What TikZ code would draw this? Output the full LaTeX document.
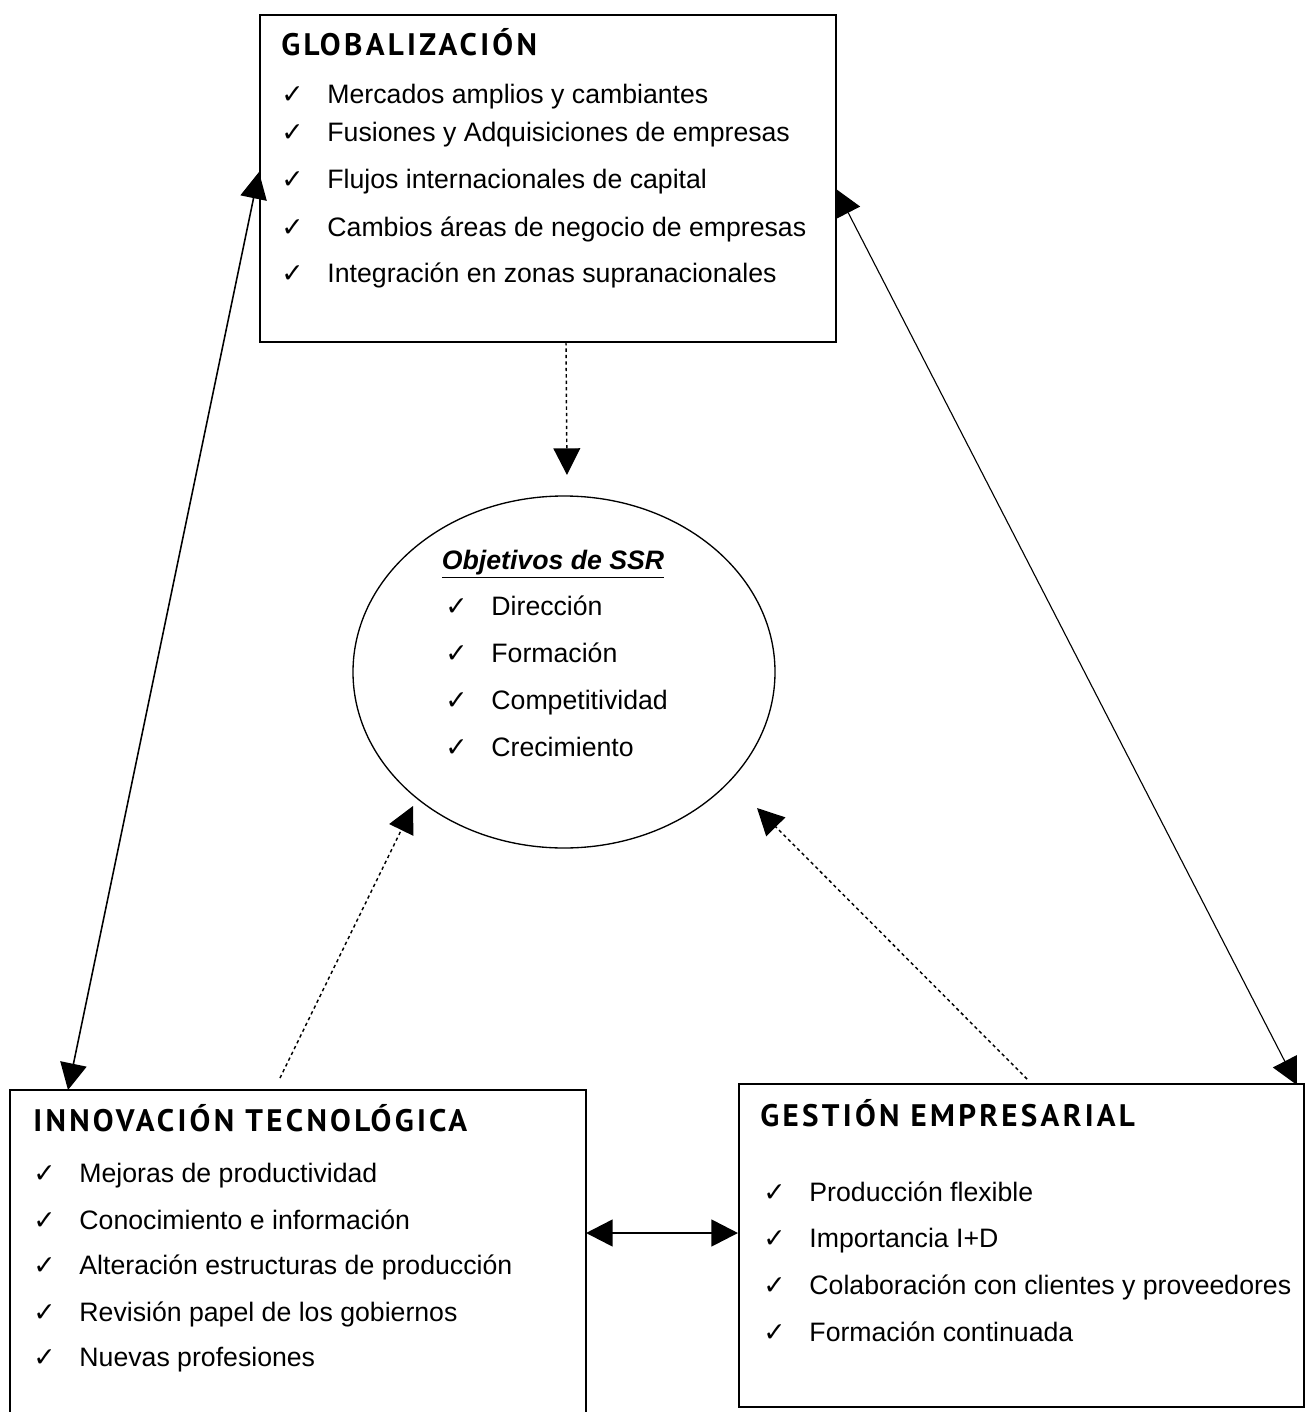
\documentclass[tikz,border=0pt]{standalone}
\usepackage{fontspec}
\setmainfont{Liberation Sans}
\newfontfamily\headfont[LetterSpace=10.5]{PT Sans}
\newfontfamily\chkfont{DejaVu Sans}
\usetikzlibrary{arrows.meta,shapes.geometric}
\newcommand{\chk}{\makebox[20.7pt][l]{\chkfont\fontsize{12}{14}\selectfont ✓}}

\begin{document}
\begin{tikzpicture}[x=0.45pt,y=-0.45pt,>={Triangle[length=12pt,width=12pt]},
  every node/.style={font=\fontsize{12}{14}\selectfont},
  box/.style={draw,line width=0.9pt,rectangle,inner sep=0pt},
  head node/.style={anchor=base west,inner sep=0pt,font=\headfont\bfseries\fontsize{14}{16}\selectfont},
  item node/.style={anchor=base west,inner sep=0pt},
  link/.style={<->,line width=0.7pt},
  hint/.style={->,line width=0.65pt,dash pattern=on 1.5pt off 1.4pt}]

  \useasboundingbox (0,0) rectangle (1306,1412);

  % the four blocks
  \node[box,minimum width=259.4pt,minimum height=147.2pt] (glob) at (547.75,178.5) {};
  \node[box,ellipse,line width=0.6pt,minimum width=189.9pt,minimum height=158.4pt] (obj) at (564,672) {};
  \node[box,minimum width=259.2pt,minimum height=147.6pt] (innov) at (298,1254) {};
  \node[box,minimum width=254.25pt,minimum height=145.35pt] (gest) at (1021.5,1245.5) {};

  % texts
  \node[head node] (globh) at (281,56) {GLOBALIZACIÓN};
  \foreach \yy/\txt [count=\i] in {104/Mercados amplios y cambiantes,
    142/Fusiones y Adquisiciones de empresas, 189/Flujos internacionales de capital,
    237/Cambios áreas de negocio de empresas, 282/Integración en zonas supranacionales}
    \node[item node] (glob\i) at (281,\yy) {\chk\txt};

  \node[anchor=base,inner sep=0pt,font=\bfseries\itshape\fontsize{12}{14}\selectfont]
    (objh) at (553,569) {\underline{Objetivos de SSR}};
  \foreach \yy/\txt [count=\i] in {615/Dirección, 662/Formación,
    709/Competitividad, 756/Crecimiento}
    \node[item node] (obj\i) at (445,\yy) {\chk\txt};

  \node[head node] (innovh) at (33,1131) {INNOVACIÓN TECNOLÓGICA};
  \foreach \yy/\txt [count=\i] in {1182/Mejoras de productividad,
    1229/Conocimiento e información, 1274/Alteración estructuras de producción,
    1321/Revisión papel de los gobiernos, 1366/Nuevas profesiones}
    \node[item node] (innov\i) at (33,\yy) {\chk\txt};

  \node[head node] (gesth) at (760,1126) {GESTIÓN EMPRESARIAL};
  \foreach \yy/\txt [count=\i] in {1201/Producción flexible, 1247/Importancia I+D,
    1294/Colaboración con clientes y proveedores, 1341/Formación continuada}
    \node[item node] (gest\i) at (763,\yy) {\chk\txt};

  % connector ends
  \coordinate (globL) at (259,172);
  \coordinate (globR) at (836,189);
  \coordinate (globS) at (566,342);
  \coordinate (innovN) at (68,1090);
  \coordinate (innovD) at (280,1078);
  \coordinate (innovE) at (586,1233);
  \coordinate (gestN) at (1297,1085);
  \coordinate (gestD) at (1027,1079);
  \coordinate (gestW) at (738,1233);
  \coordinate (objN) at (567,475);
  \coordinate (objSW) at (413,806);
  \coordinate (objSE) at (757,808);

  \draw[link] (globL) -- (innovN);
  \draw[link,line width=0.5pt] (globR) -- (gestN);
  \draw[link,line width=1.2pt] (innovE) -- (gestW);
  \draw[hint] (globS) -- (objN);
  \draw[hint] (innovD) -- (objSW);
  \draw[hint] (gestD) -- (objSE);
\end{tikzpicture}
\end{document}
